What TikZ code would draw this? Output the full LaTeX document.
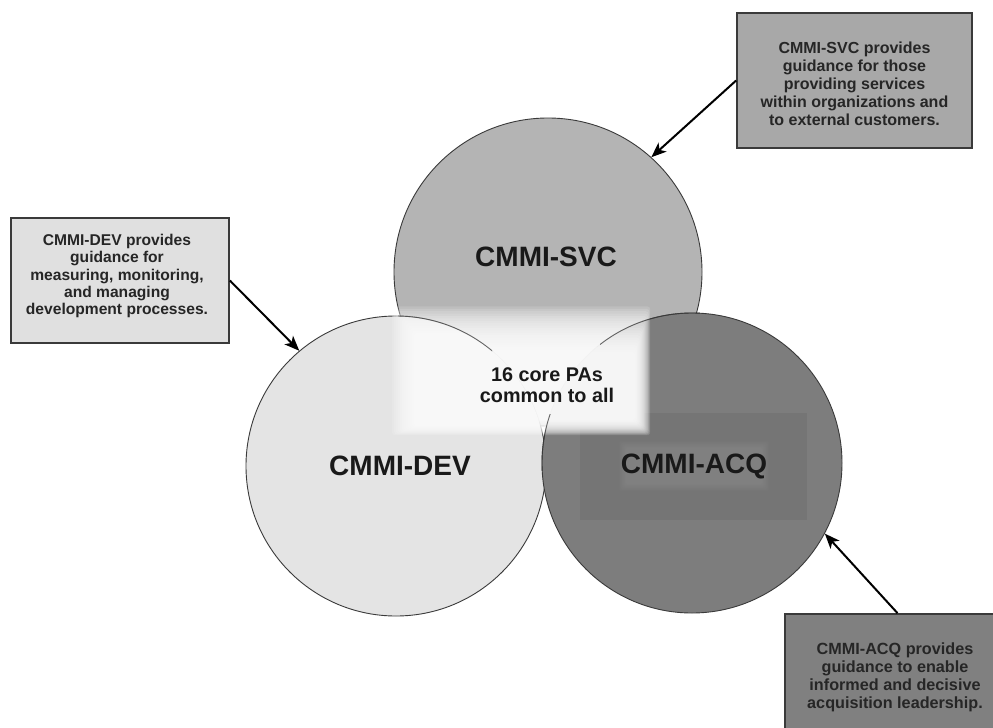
\documentclass[tikz,border=0pt]{standalone}
\usepackage{fontspec}
\setmainfont{Liberation Sans}
\usetikzlibrary{arrows.meta}
\definecolor{svcfill}{HTML}{B4B4B4}
\definecolor{devfill}{HTML}{E4E4E4}
\definecolor{acqfill}{HTML}{7D7D7D}
\definecolor{acqdark}{HTML}{757575}
\definecolor{svcbox}{HTML}{A8A8A8}
\definecolor{devbox}{HTML}{E0E0E0}
\definecolor{acqbox}{HTML}{808080}
\definecolor{edge}{HTML}{3A3A3A}
% soft rectangle: #1 colour, #2 opacity per layer, core (#3,#4)-(#5,#6),
% spreads per layer: #7 left, #8 top, #9 right and bottom
\newcommand\mysoftrect[9]{%
  \foreach \k in {0,...,19}{%
    \fill[#1,opacity=#2,rounded corners=3pt]
      ({#3-(19-\k)*#7},{#4-(19-\k)*#8}) rectangle ({#5+(19-\k)*#9},{#6+(19-\k)*#9});
  }%
}
\begin{document}
\begin{tikzpicture}[x=1pt,y=-1pt,
  circ/.style={circle,draw=edge,line width=0.9pt,inner sep=0pt},
  bigl/.style={font=\bfseries\fontsize{28}{30}\selectfont,text=black!90},
  infobox/.style={draw=edge,line width=1.7pt,align=center,inner sep=0pt,
    font=\bfseries\fontsize{16}{18}\selectfont,text=black!85},
  arr/.style={line width=2pt,-{Stealth[length=15pt,width=12pt,inset=4pt]}}]
\useasboundingbox (0,0) rectangle (993,728);
\clip (0,0) rectangle (993,728);
\fill[white] (0,0) rectangle (993,728);

% circles
\node[circ,fill=svcfill,minimum size=308pt] (svc) at (548,272) {};
\node[circ,fill=devfill,minimum size=300pt] (dev) at (396,466) {};
\node[circ,fill=acqfill,minimum size=300pt] (acq) at (692,463) {};

% darker panel and faint glow inside ACQ
\begin{scope}
  \clip (692,463) circle[radius=149.5];
  \fill[acqdark] (580,413) rectangle (807,520);
  \mysoftrect{white}{0.008}{632}{454}{756}{478}{0.7}{0.7}{0.7}
\end{scope}

% light glow in the middle
\mysoftrect{white}{0.14}{430}{352}{635}{420}{2}{2.4}{0.8}

% outline parts that stay visible through the glow
\begin{scope}
  \clip (398,300) rectangle (492,352);
  \draw[edge,line width=0.9pt,opacity=0.75] (396,466) circle[radius=150];
\end{scope}
\begin{scope}
  \clip (600,300) rectangle (700,344);
  \draw[edge,line width=0.9pt,opacity=0.75] (692,463) circle[radius=150];
\end{scope}
\begin{scope}
  \clip (536,414) rectangle (560,470);
  \draw[edge,line width=0.9pt,opacity=0.75] (692,463) circle[radius=150];
\end{scope}

% labels
\node[bigl] (svclabel) at (546,257) {CMMI-SVC};
\node[bigl] (devlabel) at (400,466) {CMMI-DEV};
\node[bigl] (acqlabel) at (694,466) {CMMI-ACQ};
\node[align=center,font=\bfseries\fontsize{19.8}{20.5}\selectfont,text=black!90]
  (core) at (547,385) {16 core PAs\\common to all};

% boxes
\node[infobox,fill=svcbox,minimum width=235pt,minimum height=135pt]
  (svcbox) at (854.5,80.5) {};
\node[align=center,font=\bfseries\fontsize{16}{18}\selectfont,text=black!85]
  (svctext) at (854.5,84) {CMMI-SVC provides\\guidance for those\\providing services\\within organizations and\\to external customers.};
\node[infobox,fill=devbox,minimum width=218pt,minimum height=125pt]
  (devbox) at (120,280.5) {};
\node[align=center,font=\bfseries\fontsize{15.6}{17.3}\selectfont,text=black!85]
  (devtext) at (117,276) {CMMI-DEV provides\\guidance for\\measuring, monitoring,\\and managing\\development processes.};
\node[infobox,fill=acqbox,minimum width=225pt,minimum height=131pt]
  (acqbox) at (897.5,679.5) {};
\mysoftrect{white}{0.008}{818}{645}{975}{704}{0.7}{0.7}{0.7}
\node[align=center,font=\bfseries\fontsize{16.2}{18}\selectfont,text=black!85]
  (acqtext) at (895,677) {CMMI-ACQ provides\\guidance to enable\\informed and decisive\\acquisition leadership.};

% arrows
\draw[arr] (svcbox.west) -- (svc.48.8);
\draw[arr] (devbox.east) -- (dev.130.9);
\draw[arr] (acqbox.north) -- (acq.-28.8);
\end{tikzpicture}
\end{document}
